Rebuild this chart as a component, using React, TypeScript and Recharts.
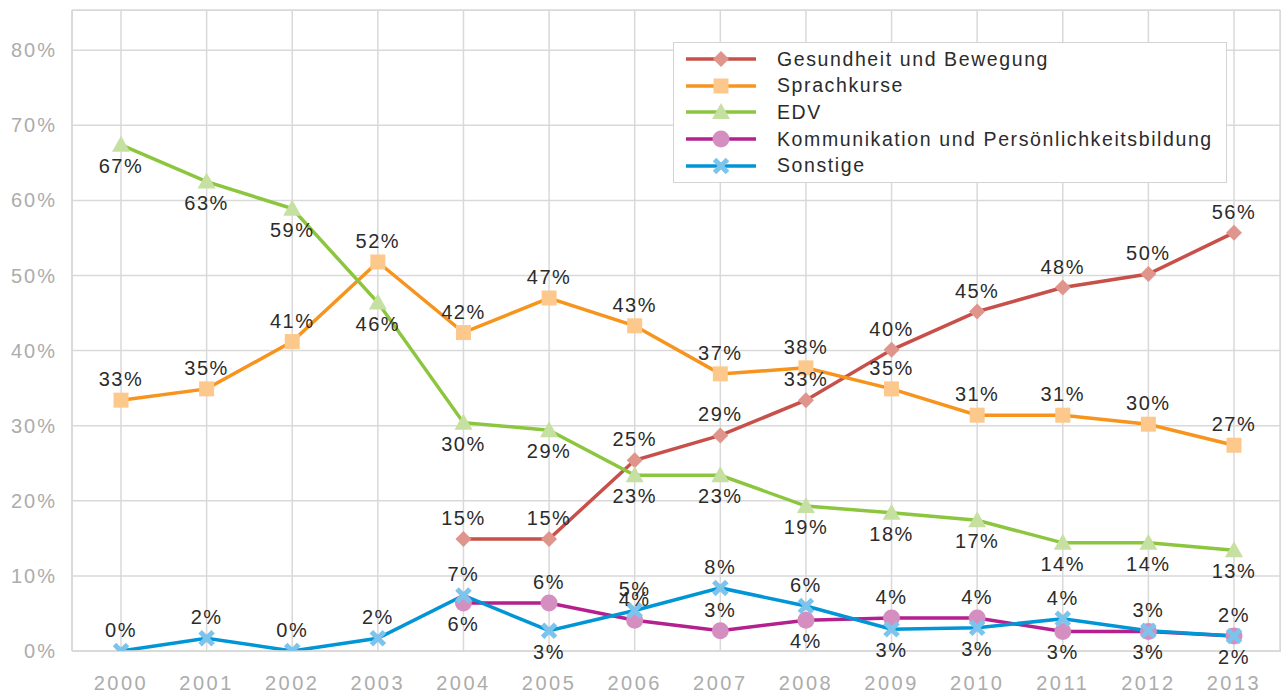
import { CartesianGrid, Line, LineChart, XAxis, YAxis } from 'recharts';

const years = ['2000', '2001', '2002', '2003', '2004', '2005', '2006', '2007', '2008', '2009', '2010', '2011', '2012', '2013'];

const gesundheit = [null, null, null, null, 0.149, 0.149, 0.254, 0.287, 0.334, 0.401, 0.452, 0.484, 0.502, 0.557];
const sprachkurse = [0.334, 0.349, 0.412, 0.518, 0.424, 0.47, 0.433, 0.369, 0.377, 0.349, 0.314, 0.314, 0.302, 0.274];
const edv = [0.674, 0.625, 0.589, 0.464, 0.304, 0.294, 0.234, 0.234, 0.193, 0.184, 0.174, 0.144, 0.144, 0.134];
const kommunikation = [null, null, null, null, 0.064, 0.064, 0.041, 0.027, 0.041, 0.044, 0.044, 0.026, 0.026, 0.02];
const sonstige = [0, 0.017, 0, 0.017, 0.074, 0.027, 0.054, 0.084, 0.06, 0.029, 0.031, 0.043, 0.027, 0.02];

const yTicks = [0, 0.1, 0.2, 0.3, 0.4, 0.5, 0.6, 0.7, 0.8];

const FONT = '"Liberation Sans", Arial, sans-serif';

type Shape = 'diamond' | 'square' | 'triangle' | 'circle' | 'cross';

interface SeriesConfig {
  key: string;
  name: string;
  values: (number | null)[];
  stroke: string;
  fill: string;
  shape: Shape;
  // years whose value label sits under the point
  below: string[];
}

const series: SeriesConfig[] = [
  { key: 'gesundheit', name: 'Gesundheit und Bewegung', values: gesundheit, stroke: '#c8504a', fill: '#df958b', shape: 'diamond', below: [] },
  { key: 'sprachkurse', name: 'Sprachkurse', values: sprachkurse, stroke: '#f7941d', fill: '#fdc88c', shape: 'square', below: [] },
  { key: 'edv', name: 'EDV', values: edv, stroke: '#8cc63f', fill: '#c6e0a2', shape: 'triangle', below: years },
  {
    key: 'kommunikation',
    name: 'Kommunikation und Persönlichkeitsbildung',
    values: kommunikation,
    stroke: '#b5208f',
    fill: '#d48ec0',
    shape: 'circle',
    below: ['2004', '2008', '2011', '2012', '2013'],
  },
  { key: 'sonstige', name: 'Sonstige', values: sonstige, stroke: '#0096d6', fill: '#7cc4ec', shape: 'cross', below: ['2005', '2009', '2010'] },
];

const data = years.map((year, i) => {
  const row: Record<string, string | number | null> = { year };
  for (const s of series) row[s.key] = s.values[i];
  return row;
});

function Marker({ cx, cy, shape, fill }: { cx: number; cy: number; shape: Shape; fill: string }) {
  switch (shape) {
    case 'diamond':
      return <polygon points={`${cx},${cy - 8} ${cx + 8},${cy} ${cx},${cy + 8} ${cx - 8},${cy}`} fill={fill} />;
    case 'square':
      return <rect x={cx - 7.5} y={cy - 7.5} width={15} height={15} fill={fill} />;
    case 'triangle':
      return <polygon points={`${cx},${cy - 9} ${cx + 9},${cy + 7} ${cx - 9},${cy + 7}`} fill={fill} />;
    case 'circle':
      return <circle cx={cx} cy={cy} r={8.5} fill={fill} />;
    default:
      return (
        <g stroke={fill} strokeWidth={5}>
          <line x1={cx - 6.5} y1={cy - 6.5} x2={cx + 6.5} y2={cy + 6.5} />
          <line x1={cx - 6.5} y1={cy + 6.5} x2={cx + 6.5} y2={cy - 6.5} />
        </g>
      );
  }
}

function LegendBox() {
  return (
    <div
      style={{
        position: 'absolute',
        left: 673,
        top: 42,
        width: 552,
        height: 139,
        border: '1px solid #d4d4d4',
        background: '#fff',
        fontFamily: FONT,
        fontSize: 19.5,
        letterSpacing: 1.6,
        color: '#2b2b2b',
        boxSizing: 'content-box',
      }}
    >
      {series.map((s, i) => (
        <div
          key={s.key}
          style={{ position: 'absolute', left: 10, top: 3 + i * 26.7, height: 26, display: 'flex', alignItems: 'center' }}
        >
          <svg width={76} height={22} style={{ marginRight: 17 }}>
            <line x1={2} y1={11} x2={72} y2={11} stroke={s.stroke} strokeWidth={3.5} />
            <Marker cx={37} cy={11} shape={s.shape} fill={s.fill} />
          </svg>
          <span>{s.name}</span>
        </div>
      ))}
    </div>
  );
}

export default function App() {
  return (
    <div style={{ position: 'absolute', left: 0, top: 0, width: 1282, height: 696, background: '#fff' }}>
      <div
        style={{ position: 'absolute', left: 72, top: 10, width: 1207, height: 640, border: '1.5px solid #d9d9d9' }}
      />
      <LineChart width={1282} height={696} data={data} margin={{ top: 10, right: 2, left: 0, bottom: 0 }}>
        <CartesianGrid stroke="#d9d9d9" strokeWidth={1.5} />
        <XAxis
          dataKey="year"
          height={45}
          padding={{ left: 49, right: 46 }}
          axisLine={{ stroke: '#d9d9d9', strokeWidth: 1.5 }}
          tickLine={false}
          tickSize={0}
          tickMargin={25}
          tick={{ fill: '#acacac', fontSize: 20, fontFamily: FONT, letterSpacing: 2.5 }}
          interval={0}
        />
        <YAxis
          width={72}
          domain={[0, 0.8535]}
          ticks={yTicks}
          allowDataOverflow
          axisLine={{ stroke: '#d9d9d9', strokeWidth: 1.5 }}
          tickLine={false}
          tickSize={0}
          tickMargin={15}
          tickFormatter={(v: number) => `${Math.round(v * 100)}%`}
          tick={{ fill: '#acacac', fontSize: 20, fontFamily: FONT, letterSpacing: 2 }}
        />
        {series.map((s) => (
          <Line
            key={s.key}
            dataKey={s.key}
            name={s.name}
            type="linear"
            stroke={s.stroke}
            strokeWidth={3.5}
            isAnimationActive={false}
            dot={(p: any) => {
              if (p.cy == null || p.value == null) return <g key={`${s.key}-d-${p.index}`} />;
              return (
                <g key={`${s.key}-d-${p.index}`}>
                  <Marker cx={p.cx} cy={p.cy} shape={s.shape} fill={s.fill} />
                </g>
              );
            }}
            activeDot={false}
            label={(p: any) => {
              if (p.value == null) return <g key={`${s.key}-l-${p.index}`} />;
              const below = s.below.includes(years[p.index]);
              return (
                <text
                  key={`${s.key}-l-${p.index}`}
                  x={p.x}
                  y={p.y + (below ? 21 : -21)}
                  textAnchor="middle"
                  dominantBaseline="central"
                  fill="#2b2b2b"
                  fontSize={20}
                  fontFamily={FONT}
                  letterSpacing={1.5}
                >
                  {`${Math.round(p.value * 100)}%`}
                </text>
              );
            }}
          />
        ))}
      </LineChart>
      <LegendBox />
    </div>
  );
}
